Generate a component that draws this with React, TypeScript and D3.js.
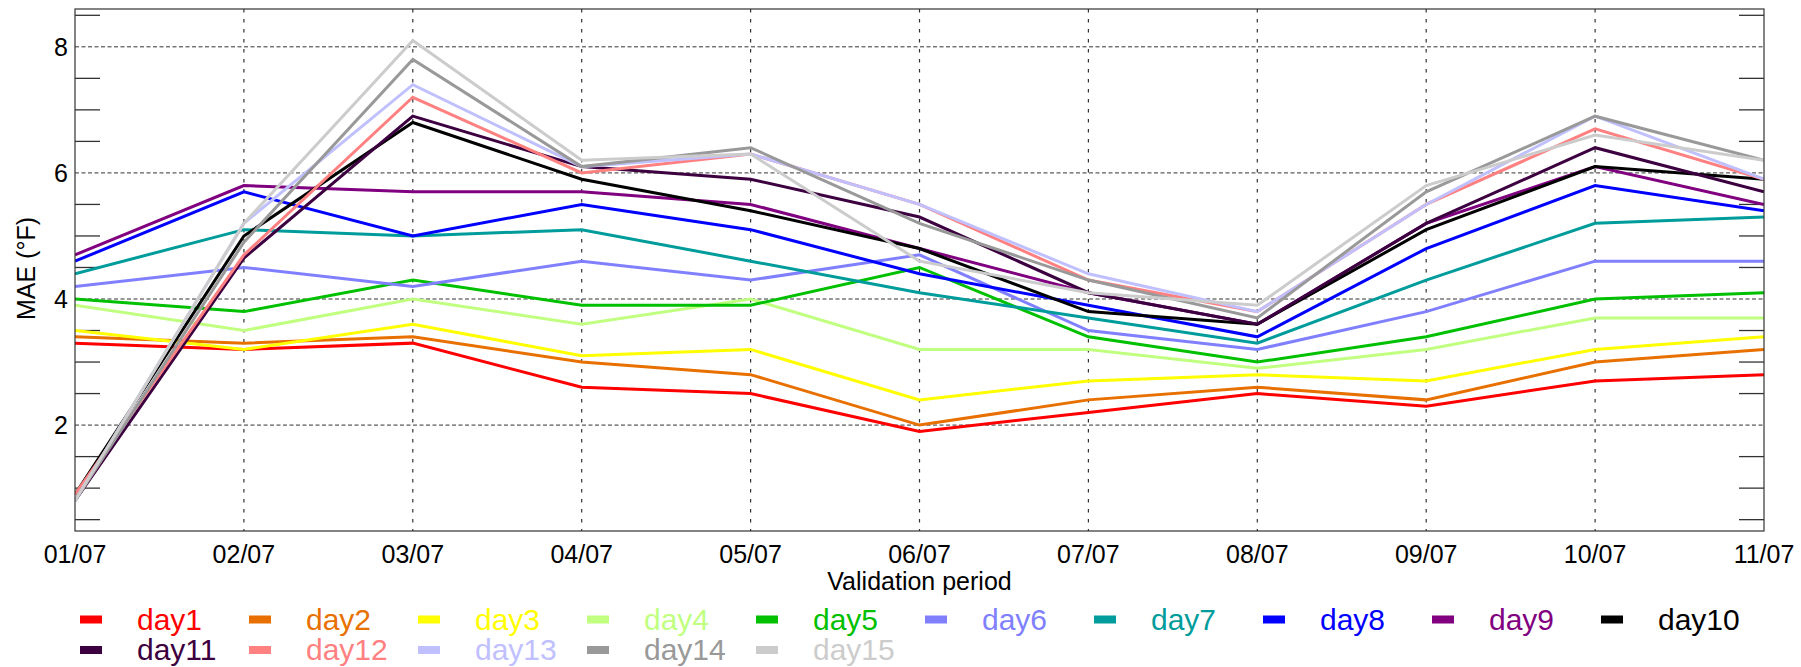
import React from "react";
import * as d3 from "d3";

const dates = ["01/07", "02/07", "03/07", "04/07", "05/07", "06/07", "07/07", "08/07", "09/07", "10/07", "11/07"];
const yGridTicks = [2, 4, 6, 8];
const yMinorTicks = [0.5, 1, 1.5, 2.5, 3, 3.5, 4.5, 5, 5.5, 6.5, 7, 7.5, 8.5];

const seriesNames = ["day1", "day2", "day3", "day4", "day5", "day6", "day7", "day8", "day9", "day10", "day11", "day12", "day13", "day14", "day15"];
const seriesColors = ["#ff0000", "#e87000", "#ffff00", "#c0ff80", "#00c000", "#8080ff", "#009c9c", "#0000ff", "#800080", "#000000", "#3c0040", "#ff8080", "#c0c0ff", "#999999", "#cccccc"];

const day1 = [3.3, 3.2, 3.3, 2.6, 2.5, 1.9, 2.2, 2.5, 2.3, 2.7, 2.8];
const day2 = [3.4, 3.3, 3.4, 3.0, 2.8, 2.0, 2.4, 2.6, 2.4, 3.0, 3.2];
const day3 = [3.5, 3.2, 3.6, 3.1, 3.2, 2.4, 2.7, 2.8, 2.7, 3.2, 3.4];
const day4 = [3.9, 3.5, 4.0, 3.6, 4.0, 3.2, 3.2, 2.9, 3.2, 3.7, 3.7];
const day5 = [4.0, 3.8, 4.3, 3.9, 3.9, 4.5, 3.4, 3.0, 3.4, 4.0, 4.1];
const day6 = [4.2, 4.5, 4.2, 4.6, 4.3, 4.7, 3.5, 3.2, 3.8, 4.6, 4.6];
const day7 = [4.4, 5.1, 5.0, 5.1, 4.6, 4.1, 3.7, 3.3, 4.3, 5.2, 5.3];
const day8 = [4.6, 5.7, 5.0, 5.5, 5.1, 4.4, 3.9, 3.4, 4.8, 5.8, 5.4];
const day9 = [4.7, 5.8, 5.7, 5.7, 5.5, 4.8, 4.1, 3.6, 5.2, 6.1, 5.5];
const day10 = [0.9, 5.0, 6.8, 5.9, 5.4, 4.8, 3.8, 3.6, 5.1, 6.1, 5.9];
const day11 = [0.8, 4.65, 6.9, 6.1, 5.9, 5.3, 4.1, 3.6, 5.2, 6.4, 5.7];
const day12 = [0.9, 4.7, 7.2, 6.0, 6.3, 5.5, 4.3, 3.8, 5.5, 6.7, 5.9];
const day13 = [0.8, 5.2, 7.4, 6.1, 6.3, 5.5, 4.4, 3.8, 5.5, 6.9, 5.9];
const day14 = [0.8, 4.9, 7.8, 6.1, 6.4, 5.2, 4.3, 3.7, 5.7, 6.9, 6.2];
const day15 = [0.8, 5.2, 8.1, 6.2, 6.3, 4.6, 4.1, 3.9, 5.8, 6.6, 6.2];

const seriesValues = [day1, day2, day3, day4, day5, day6, day7, day8, day9, day10, day11, day12, day13, day14, day15];

const W = 1801;
const H = 667;
const M = { left: 75, right: 1764, top: 9, bottom: 531 };
const FONT = "'Liberation Sans', Arial, Helvetica, sans-serif";

export default function App() {
  const x = d3.scalePoint<string>().domain(dates).range([M.left, M.right]);
  const y = d3.scaleLinear().domain([0.32, 8.6]).range([M.bottom, M.top]);
  const line = d3
    .line<number>()
    .x((_, i) => x(dates[i]) as number)
    .y((d) => y(d));

  const legendCols = 10;
  const legendX0 = 80;
  const legendDX = 169;
  const legendRowY = [619.5, 650];

  return (
    <svg
      width={W}
      height={H}
      viewBox={`0 0 ${W} ${H}`}
      style={{ position: "absolute", left: 0, top: 0, background: "#fff" }}
      fontFamily={FONT}
    >
      <rect x={0} y={0} width={W} height={H} fill="#fff" />
      <defs>
        <clipPath id="plotclip">
          <rect x={M.left} y={M.top} width={M.right - M.left} height={M.bottom - M.top} />
        </clipPath>
      </defs>
      {/* horizontal gridlines */}
      {yGridTicks.map((t) => (
        <line
          key={"hg" + t}
          x1={M.left}
          x2={M.right}
          y1={y(t)}
          y2={y(t)}
          stroke="#333"
          strokeWidth={1}
          strokeDasharray="4,2.5"
        />
      ))}
      {/* vertical gridlines */}
      {dates.slice(1, -1).map((d) => (
        <line
          key={"vg" + d}
          x1={x(d)}
          x2={x(d)}
          y1={M.top}
          y2={M.bottom}
          stroke="#333"
          strokeWidth={1.2}
          strokeDasharray="3.5,6.5"
        />
      ))}
      {/* minor ticks */}
      {yMinorTicks.map((t) => (
        <g key={"mt" + t}>
          <line x1={M.left} x2={M.left + 25} y1={y(t)} y2={y(t)} stroke="#333" strokeWidth={1.3} />
          <line x1={M.right - 25} x2={M.right} y1={y(t)} y2={y(t)} stroke="#333" strokeWidth={1.3} />
        </g>
      ))}
      {/* series */}
      <g clipPath="url(#plotclip)">
        {seriesValues.map((vals, i) => (
          <path
            key={seriesNames[i]}
            d={line(vals) || ""}
            fill="none"
            stroke={seriesColors[i]}
            strokeWidth={3}
            strokeLinejoin="miter"
          />
        ))}
      </g>
      {/* frame */}
      <rect
        x={M.left}
        y={M.top}
        width={M.right - M.left}
        height={M.bottom - M.top}
        fill="none"
        stroke="#333"
        strokeWidth={1.2}
      />
      {/* y tick labels */}
      {yGridTicks.map((t) => (
        <text key={"yl" + t} x={M.left - 7} y={y(t) + 9} textAnchor="end" fontSize={25} fill="#000">
          {t}
        </text>
      ))}
      {/* x tick labels */}
      {dates.map((d) => (
        <text key={"xl" + d} x={x(d)} y={563} textAnchor="middle" fontSize={25} fill="#000">
          {d}
        </text>
      ))}
      <text x={(M.left + M.right) / 2} y={590} textAnchor="middle" fontSize={25} fill="#000">
        Validation period
      </text>
      <text transform={`translate(35, 268.5) rotate(-90)`} textAnchor="middle" fontSize={25} fill="#000">
        MAE (°F)
      </text>
      {/* legend */}
      {seriesNames.map((name, i) => {
        const col = i % legendCols;
        const row = Math.floor(i / legendCols);
        const lx = legendX0 + col * legendDX;
        const ly = legendRowY[row];
        return (
          <g key={"lg" + name}>
            <rect x={lx} y={ly - 4} width={22} height={8} fill={seriesColors[i]} />
            <text x={lx + 57} y={ly + 10} fontSize={30} fill={seriesColors[i]}>
              {name}
            </text>
          </g>
        );
      })}
    </svg>
  );
}
